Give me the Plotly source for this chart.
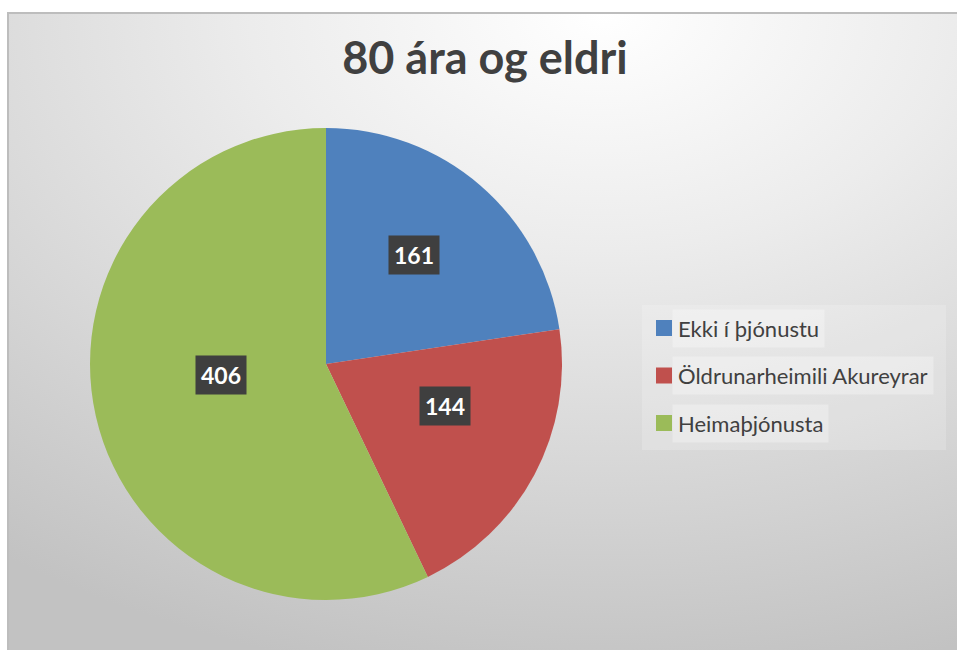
import math
import base64
import plotly.graph_objects as go

# ---- data ----
title_text = "80 ára og eldri"
categories = ["Ekki í þjónustu", "Öldrunarheimili Akureyrar", "Heimaþjónusta"]
values = [161, 144, 406]
colors = ["#4F81BD", "#C0504D", "#9BBB59"]

W, H = 957, 650
FONT = "Lato, 'Open Sans', sans-serif"

def px(x):
    return x / W

def py(y):
    return (H - y) / H

# pie geometry (pixels)
cx, cy, R = 326, 364, 236
dom_x = [px(cx - R), px(cx + R)]
dom_y = [py(cy + R), py(cy - R)]

fig = go.Figure()
fig.add_trace(go.Pie(
    labels=categories,
    values=values,
    marker=dict(colors=colors, line=dict(width=0)),
    sort=False,
    direction="clockwise",
    rotation=0,
    textinfo="none",
    hoverinfo="label+value",
    domain=dict(x=dom_x, y=dom_y),
    showlegend=False,
))

# value labels with dark boxes, positioned from data (slice mid-angles)
total = sum(values)
start = 0.0
annotations = []
for v in values:
    span = v / total * 360.0
    mid = math.radians(start + span / 2)
    lx = cx + 0.57 * R * math.sin(mid)
    ly = (cy - 16) - 0.52 * R * math.cos(mid)
    annotations.append(dict(
        x=px(lx), y=py(ly), xref="paper", yref="paper",
        text=f"<b>{v}</b>", showarrow=False,
        font=dict(family=FONT, size=23, color="white"),
        bgcolor="#3f3f3f", borderpad=5,
    ))
    start += span

# legend (built from categories / colors)
shapes = []
leg_x, leg_y0, leg_dy = 656, 328, 47.5
shapes.append(dict(type="rect", xref="paper", yref="paper",
                   x0=px(642), x1=px(946), y0=py(450), y1=py(305),
                   fillcolor="rgba(255,255,255,0.18)", line=dict(width=0)))
for i, (lab, col) in enumerate(zip(categories, colors)):
    yy = leg_y0 + i * leg_dy
    shapes.append(dict(type="rect", xref="paper", yref="paper",
                       x0=px(leg_x), x1=px(leg_x + 16), y0=py(yy + 8), y1=py(yy - 8),
                       fillcolor=col, line=dict(width=0)))
    annotations.append(dict(
        x=px(leg_x + 16), y=py(yy), xref="paper", yref="paper",
        xanchor="left", yanchor="middle", text=lab, showarrow=False,
        font=dict(family=FONT, size=22, color="#404040"),
        bgcolor="rgba(255,255,255,0.3)", borderpad=5,
    ))

# background gradient
svg = (
    '<svg xmlns="http://www.w3.org/2000/svg" width="949" height="637" viewBox="0 0 949 637" preserveAspectRatio="none">'
    '<defs><radialGradient id="g" cx="0.62" cy="0.0" r="1.05" gradientUnits="objectBoundingBox">'
    '<stop offset="0" stop-color="#ffffff"/><stop offset="0.35" stop-color="#ececec"/>'
    '<stop offset="1" stop-color="#c2c2c2"/></radialGradient></defs>'
    '<rect width="949" height="637" fill="url(#g)"/></svg>'
)
src = "data:image/svg+xml;base64," + base64.b64encode(svg.encode()).decode()

shapes.insert(0, dict(type="path", xref="paper", yref="paper",
                      path=f"M {px(8)},{py(H + 5)} L {px(8)},{py(13)} L {px(W + 5)},{py(13)}",
                      line=dict(color="#bdbdbd", width=2), layer="below"))

fig.update_layout(
    width=W, height=H,
    margin=dict(l=0, r=0, t=0, b=0),
    paper_bgcolor="white",
    plot_bgcolor="rgba(0,0,0,0)",
    title=dict(text=f"<b>{title_text}</b>", x=px(485), xanchor="center",
               y=py(58), yanchor="middle",
               font=dict(family=FONT, size=45, color="#404040")),
    showlegend=False,
    annotations=annotations,
    images=[dict(source=src, xref="paper", yref="paper",
                 x=px(8), y=py(13), sizex=px(W - 8) + 0.01, sizey=1 - 13 / H + 0.01,
                 xanchor="left", yanchor="top", sizing="stretch", layer="below")],
    shapes=shapes,
)

fig.write_html(
    "out.html",
    config={"displayModeBar": False},
    post_script="document.body.style.margin='0';document.body.style.overflow='hidden';",
)
